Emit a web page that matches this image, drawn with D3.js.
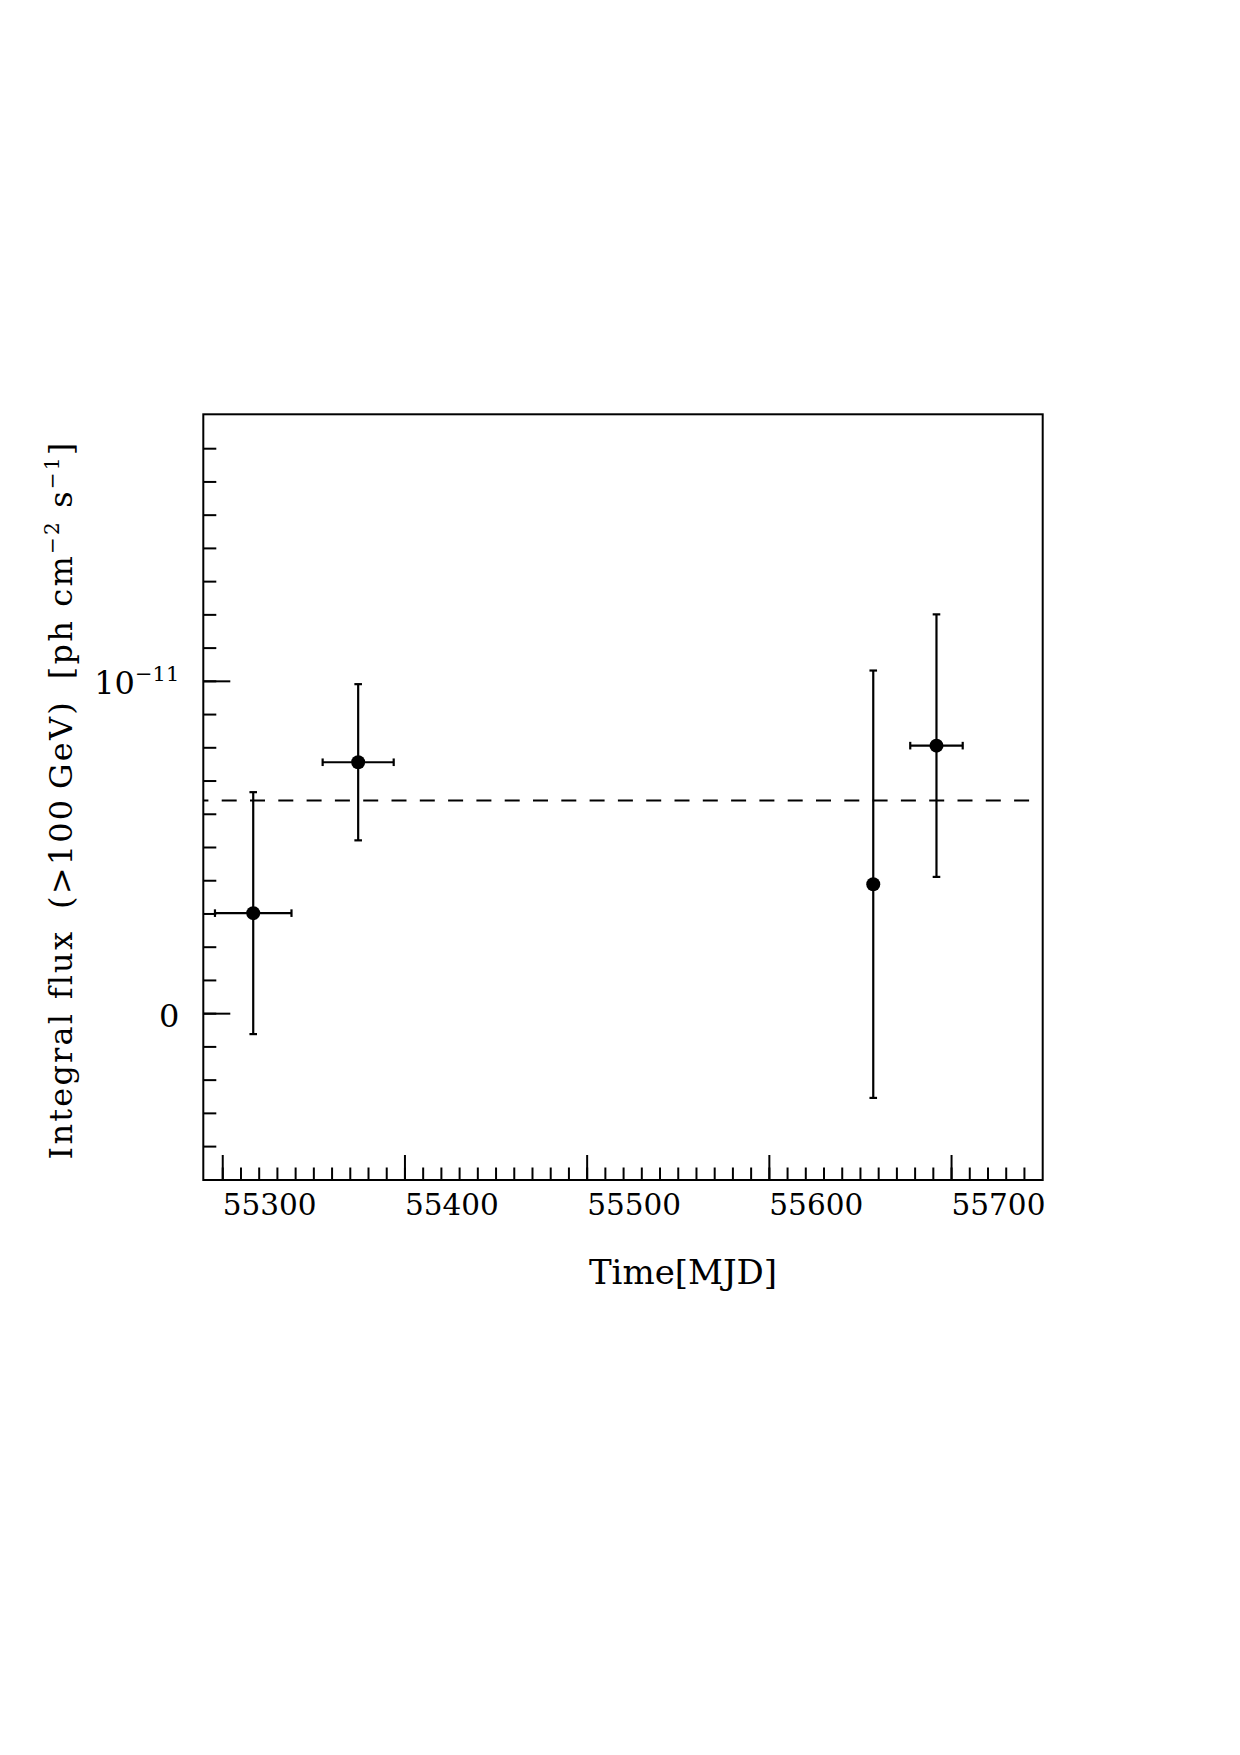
<!DOCTYPE html>
<html lang="en">
<head>
<meta charset="UTF-8">
<title>Integral flux light curve</title>
<style>
  body { margin: 0; background: #fff; }
  svg text { font-family: "DejaVu Serif", serif; fill: #000; }
</style>
</head>
<body>
<div id="chart"></div>
<script src="https://d3js.org/d3.v7.min.js"></script>
<script>
// light curve points (MJD, flux above 100 GeV)
const mjd = [55317, 55374.6, 55657.3, 55692];
const mjdErr = [21, 19.5, 0, 14.4];
const flux = [3.01e-12, 7.55e-12, 3.88e-12, 8.05e-12];
const fluxErr = [3.64e-12, 2.35e-12, 6.43e-12, 3.95e-12];
const meanFlux = 6.40e-12;
const xTickLabels = [55300, 55400, 55500, 55600, 55700];
const yTickLabels = [0, 1e-11];

const frame = { left: 203.3, top: 414.3, right: 1042.7, bottom: 1180 };
const width = frame.right - frame.left;
const height = frame.bottom - frame.top;

const svg = d3.select('#chart')
    .append('svg')
    .attr('width', 1240)
    .attr('height', 1755);

const g = svg.append('g')
    .attr('transform', `translate(${frame.left},${frame.top})`);

const x = d3.scaleLinear().domain([55289.6, 55750.3]).range([0, width]);
const y = d3.scaleLinear().domain([-5.02e-12, 18.02e-12]).range([height, 0]);

// x axis: minor ticks every 10 days, major every 100
g.append('g')
    .attr('transform', `translate(0,${height})`)
    .call(d3.axisBottom(x).tickValues(d3.range(55300, 55741, 10)).tickSize(-12.5).tickFormat(''))
    .call(a => a.select('.domain').remove())
    .selectAll('line').attr('stroke-width', 2);

const xMajor = g.append('g')
    .attr('transform', `translate(0,${height})`)
    .call(d3.axisBottom(x).tickValues(xTickLabels).tickSize(-25).tickFormat(d3.format('d')));
xMajor.select('.domain').remove();
xMajor.selectAll('line').attr('stroke-width', 2);
xMajor.selectAll('text')
    .attr('y', 35)
    .attr('dy', null)
    .attr('text-anchor', 'start')
    .style('font-size', '29.5px')
    .style('font-family', '"DejaVu Serif", serif');

// y axis: minor ticks every 1e-12
g.append('g')
    .call(d3.axisLeft(y).tickValues(d3.range(-4, 18).map(v => v * 1e-12)).tickSize(-13).tickFormat(''))
    .call(a => a.select('.domain').remove())
    .selectAll('line').attr('stroke-width', 2);

const yMajor = g.append('g')
    .call(d3.axisLeft(y).tickValues(yTickLabels).tickSize(-27).tickFormat(''));
yMajor.select('.domain').remove();
yMajor.selectAll('line').attr('stroke-width', 2);
yMajor.selectAll('.tick').each(function (d) {
    const t = d3.select(this).append('text')
        .attr('x', -24)
        .attr('y', 13)
        .attr('text-anchor', 'end')
        .style('font-size', '32px');
    if (d === 0) {
        t.text('0');
    } else {
        const exp = Math.round(Math.log10(d));
        t.append('tspan').text('10');
        t.append('tspan').attr('dy', -13).style('font-size', '21px').text('\u2212' + Math.abs(exp));
    }
});

// frame
g.append('rect')
    .attr('width', width)
    .attr('height', height)
    .attr('fill', 'none')
    .attr('stroke', '#000')
    .attr('stroke-width', 2);

// mean flux
g.append('line')
    .attr('x1', 0)
    .attr('x2', width)
    .attr('y1', y(meanFlux))
    .attr('y2', y(meanFlux))
    .attr('stroke', '#000')
    .attr('stroke-width', 2)
    .attr('stroke-dasharray', '15 13.3')
    .attr('stroke-dashoffset', 9.9);

// error bars and points
const pts = mjd.map((m, i) => ({ m, dm: mjdErr[i], f: flux[i], df: fluxErr[i] }));
const cap = 3.8;
const bars = g.selectAll('.pt')
    .data(pts)
    .enter()
    .append('g')
    .attr('class', 'pt')
    .attr('stroke', '#000')
    .attr('stroke-width', 2.2);

bars.append('line')
    .attr('x1', d => x(d.m)).attr('x2', d => x(d.m))
    .attr('y1', d => y(d.f - d.df)).attr('y2', d => y(d.f + d.df));
bars.append('line')
    .attr('x1', d => x(d.m) - cap).attr('x2', d => x(d.m) + cap)
    .attr('y1', d => y(d.f + d.df)).attr('y2', d => y(d.f + d.df));
bars.append('line')
    .attr('x1', d => x(d.m) - cap).attr('x2', d => x(d.m) + cap)
    .attr('y1', d => y(d.f - d.df)).attr('y2', d => y(d.f - d.df));

const hbars = bars.filter(d => d.dm > 0);
hbars.append('line')
    .attr('x1', d => x(d.m - d.dm)).attr('x2', d => x(d.m + d.dm))
    .attr('y1', d => y(d.f)).attr('y2', d => y(d.f));
hbars.append('line')
    .attr('x1', d => x(d.m - d.dm)).attr('x2', d => x(d.m - d.dm))
    .attr('y1', d => y(d.f) - cap).attr('y2', d => y(d.f) + cap);
hbars.append('line')
    .attr('x1', d => x(d.m + d.dm)).attr('x2', d => x(d.m + d.dm))
    .attr('y1', d => y(d.f) - cap).attr('y2', d => y(d.f) + cap);

bars.append('circle')
    .attr('cx', d => x(d.m))
    .attr('cy', d => y(d.f))
    .attr('r', 7)
    .attr('fill', '#000')
    .attr('stroke', 'none');

// axis titles
svg.append('text')
    .attr('x', 683)
    .attr('y', 1284)
    .attr('text-anchor', 'middle')
    .style('font-size', '34px')
    .text('Time[MJD]');

const yTitle = svg.append('text')
    .attr('transform', 'translate(72,800) rotate(-90)')
    .attr('text-anchor', 'middle')
    .style('font-size', '32px')
    .style('white-space', 'pre');
yTitle.append('tspan').text('Integral flux \u2009(>100\u2009GeV) \u2009[ph cm');
yTitle.append('tspan').attr('dy', -13).style('font-size', '20px').text('\u22122');
yTitle.append('tspan').attr('dy', 13).text(' s');
yTitle.append('tspan').attr('dy', -13).style('font-size', '20px').text('\u22121');
yTitle.append('tspan').attr('dy', 13).text(']');

// stretch the title spacing to the reference length (about 718 px)
const titleLen = yTitle.node().getComputedTextLength();
const nChars = yTitle.text().length;
yTitle.style('letter-spacing', `${Math.max(0, (718 - titleLen) / nChars)}px`);
</script>
</body>
</html>
